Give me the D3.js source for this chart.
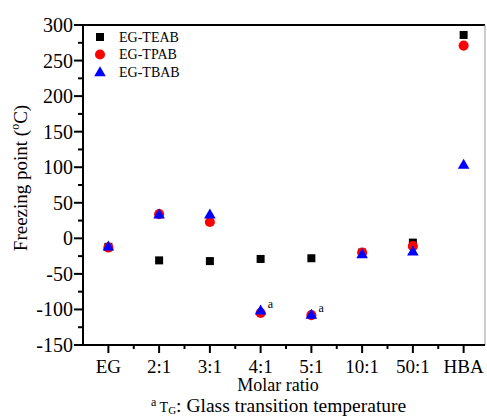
<!DOCTYPE html>
<html><head><meta charset="utf-8">
<script src="https://cdn.jsdelivr.net/npm/d3@7"></script>
<style>body{margin:0;background:#fff}svg{display:block}text{font-family:"Liberation Serif","Times New Roman",serif;fill:#000}</style>
</head><body><svg id="c" width="487" height="418"></svg>
<script>
const categories = ["EG","2:1","3:1","4:1","5:1","10:1","50:1","HBA"];
const teab = [-12,-31,-32,-29,-28,-20,-6,286];
const tpab = [-13,34,23,-105,-108,-20,-11,271];
const tbab = [-11,34,34,-101,-107,-22,-18,104];
const yTicks = [-150,-100,-50,0,50,100,150,200,250,300];
const seriesNames = ["EG-TEAB","EG-TPAB","EG-TBAB"];
const seriesColors = ["#000000","#ff0000","#0000ff"];
const annotated = [3,4];

const svg = d3.select("#c");
const L=83,T=25,R=485,B=345;
const x = d3.scaleLinear().domain([-0.5,7.5]).range([L,L+8*50.75]);
const y = d3.scaleLinear().domain([-150,300]).range([B,T]);

// frame: top and right
svg.append("line").attr("x1",L).attr("x2",R).attr("y1",T).attr("y2",T).attr("stroke","#000").attr("stroke-width",2);
svg.append("line").attr("x1",R).attr("x2",R).attr("y1",T).attr("y2",B).attr("stroke","#999").attr("stroke-width",1);

// y axis
const ya = svg.append("g").attr("transform",`translate(${L},0)`);
ya.append("line").attr("x1",0).attr("x2",0).attr("y1",T-1).attr("y2",B+1).attr("stroke","#000").attr("stroke-width",2);
const yMinor = d3.range(-125,300,50);
ya.selectAll(".ymn").data(yMinor).join("line").attr("x1",-5).attr("x2",0).attr("y1",d=>y(d)).attr("y2",d=>y(d)).attr("stroke","#000").attr("stroke-width",2);
ya.selectAll(".ymj").data(yTicks).join("line").attr("x1",-9).attr("x2",0).attr("y1",d=>y(d)).attr("y2",d=>y(d)).attr("stroke","#000").attr("stroke-width",2);
ya.selectAll(".ylb").data(yTicks).join("text").attr("x",-10).attr("y",d=>y(d)).attr("dy","0.35em").attr("text-anchor","end").attr("font-size",20).text(d=>d);

// x axis
const xa = svg.append("g").attr("transform",`translate(0,${B})`);
xa.append("line").attr("x1",L-1).attr("x2",R).attr("y1",0).attr("y2",0).attr("stroke","#000").attr("stroke-width",2);
const xMinor = d3.range(0,8).map(i=>i+0.5).filter(v=>x(v)<R);
xa.selectAll(".xmn").data(xMinor).join("line").attr("x1",d=>x(d)).attr("x2",d=>x(d)).attr("y1",0).attr("y2",4).attr("stroke","#000").attr("stroke-width",2);
xa.selectAll(".xmj").data(categories).join("line").attr("x1",(d,i)=>x(i)).attr("x2",(d,i)=>x(i)).attr("y1",0).attr("y2",8).attr("stroke","#000").attr("stroke-width",2);
xa.selectAll(".xlb").data(categories).join("text").attr("x",(d,i)=>x(i)).attr("y",28).attr("text-anchor","middle").attr("font-size",19).text(d=>d);

// axis titles
svg.append("text").attr("x",278).attr("y",391).attr("text-anchor","middle").attr("font-size",18).text("Molar ratio");
const fn = svg.append("text").attr("x",151).attr("y",412).attr("font-size",19.5);
fn.append("tspan").attr("font-size",12).attr("dy",-6).text("a");
fn.append("tspan").attr("font-size",14).attr("dy",6).text(" T");
fn.append("tspan").attr("font-size",11).attr("dy",2).text("G");
fn.append("tspan").attr("dy",-2).text(": Glass transition temperature");
const yl = svg.append("text").attr("transform","translate(27,178) rotate(-90)").attr("text-anchor","middle").attr("font-size",19);
yl.append("tspan").text("Freezing point (");
yl.append("tspan").attr("font-size",12).attr("dy",-8).text("o");
yl.append("tspan").attr("dy",8).text("C)");

// markers
const shapes = [d3.symbol().type(d3.symbolSquare).size(64), d3.symbol().type(d3.symbolCircle).size(80), d3.symbol().type(d3.symbolTriangle).size(58)];
const allData = [teab,tpab,tbab];
allData.forEach((arr,s)=>{
  svg.append("g").selectAll("path").data(arr).join("path")
    .attr("d",shapes[s]).attr("fill",seriesColors[s])
    .attr("transform",(d,i)=>`translate(${x(i)},${y(d)+(s===2?1:0)})`);
});
// annotations
svg.selectAll(".ann").data(annotated).join("text").attr("x",i=>x(i)+7).attr("y",i=>y(tbab[i])-2).attr("font-size",12).text("a");

// legend
const lg = svg.append("g");
seriesNames.forEach((n,s)=>{
  const yy = 37 + s*17.5;
  lg.append("path").attr("d",shapes[s]).attr("fill",seriesColors[s]).attr("transform",`translate(100,${yy+(s===2?1:0)})`);
  lg.append("text").attr("x",119).attr("y",yy).attr("dy","0.35em").attr("font-size",14).text(n);
});
</script></body></html>
